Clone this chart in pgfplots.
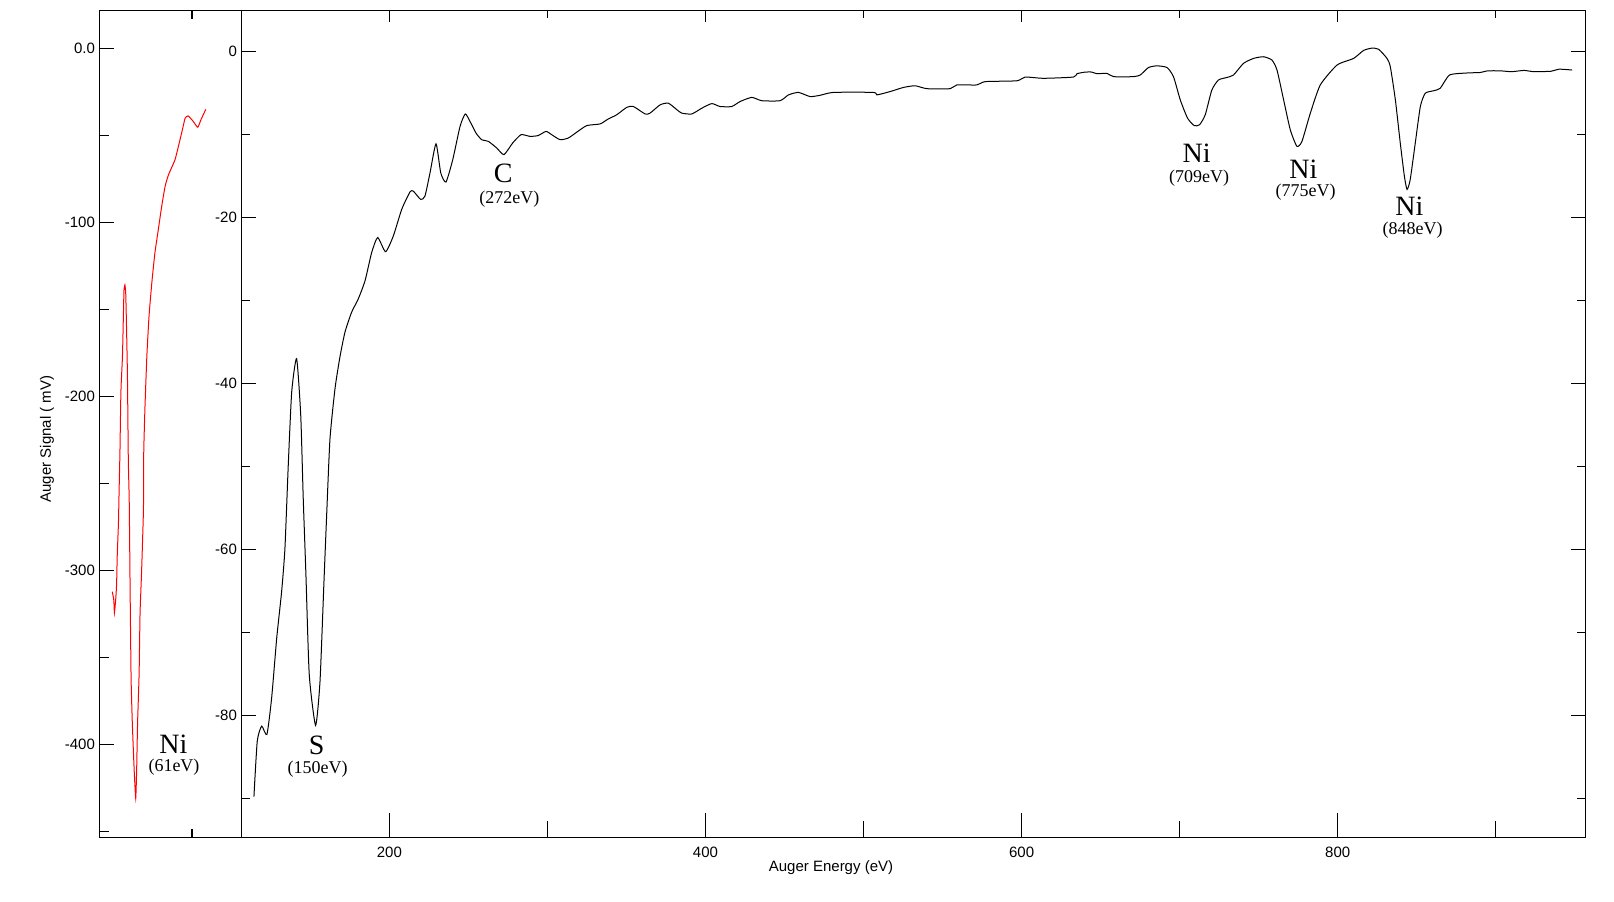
\documentclass[border=0pt]{standalone}
\usepackage{fontspec}
\setmainfont{Liberation Sans}
\newfontfamily\tnr{Liberation Serif}
\usepackage{pgfplots}
\pgfplotsset{compat=1.18}
\begin{document}
\begin{tikzpicture}
\useasboundingbox (0,0) rectangle (807pt,450.5pt);
\pgfplotsset{
  common/.style={scale only axis, anchor=south west,
    axis line style={line width=0.6pt, black},
    every tick/.style={line width=0.6pt, black},
    tick align=inside,
    font=\fontsize{7.5}{9}\selectfont,
    yticklabel style={anchor=east, inner sep=0pt, xshift=-2pt},
    xticklabel style={anchor=north, inner sep=0pt, yshift=-4.7pt},
  },
  leftbox/.style={common, at={(49.65pt,31.85pt)}, width=71pt, height=413.5pt,
    xmin=50, xmax=96, ymin=-453.4, ymax=21.8},
  rightbox/.style={common, at={(120.65pt,31.85pt)}, width=672.25pt, height=413.5pt,
    xmin=106.3, xmax=957, ymin=-94.7, ymax=5.0},
}
% ---- left panel ----
\begin{axis}[leftbox, xtick=\empty,
  ytick={0,-100,-200,-300,-400}, yticklabels={0.0,-100,-200,-300,-400},
  minor ytick={-50,-150,-250,-350,-450}, ytick pos=left,
  major tick length=7.3pt, minor tick length=5pt]
\addplot[red, line width=0.5pt, smooth, tension=0.3] coordinates {
(54.2,-312.3) (54.7,-317.1) (54.9,-324.4) (55.3,-317.1) (55.6,-308.4) (55.8,-292.2)
(56.2,-273.0) (56.4,-255.7) (56.7,-230.9) (57.0,-197.4) (57.5,-177.2) (57.8,-154.2)
(58.0,-138.9) (58.3,-136.0) (58.6,-142.8) (59.1,-185.9) (59.4,-236.6) (59.7,-260.6)
(60.0,-314.2) (60.3,-362.1) (60.7,-387.9) (61.3,-414.8) (61.8,-431.0) (62.1,-414.8)
(62.4,-387.9) (62.9,-359.2) (63.2,-324.7) (63.7,-300.8) (64.3,-265.3) (64.4,-232.0)
(64.8,-206.0) (65.4,-177.2) (66.1,-154.2) (67.0,-135.1) (68.0,-117.8) (69.1,-104.4)
(70.2,-91.0) (71.3,-79.5) (72.4,-72.8) (74.5,-64.2) (75.6,-56.6) (76.9,-47.0)
(77.8,-40.2) (78.8,-38.9) (80.5,-42.2) (81.9,-45.4) (82.9,-41.2) (84.5,-35.1)
};
\end{axis}
\begin{axis}[leftbox, ytick=\empty, xtick={80}, xticklabels={}, xtick pos=both,
  major tick length=4.25pt]
\end{axis}
% ---- right panel ----
\begin{axis}[rightbox, xtick=\empty,
  ytick={0,-20,-40,-60,-80}, yticklabels={0,-20,-40,-60,-80},
  minor ytick={-10,-30,-50,-70,-90}, ytick pos=both, yticklabel pos=left,
  major tick length=7.3pt, minor tick length=4.5pt]
\addplot[black, line width=0.5pt, smooth, tension=0.35] coordinates {
(114.3,-89.8) (116.4,-83.1) (119.2,-81.3) (122.5,-82.3) (125.5,-77.9) (128.7,-70.7)
(131.8,-65.1) (133.9,-59.9) (136.0,-49.9) (138.2,-41.0) (141.3,-37.0) (143.9,-43.8)
(145.5,-53.9) (147.2,-63.1) (149.3,-75.1) (153.3,-81.2) (156.1,-75.9) (158.6,-63.9)
(160.3,-55.9) (162.4,-46.7) (165.6,-40.6) (168.7,-36.8) (171.9,-33.8) (176.1,-31.4)
(180.3,-29.8) (184.6,-27.6) (188.8,-24.2) (192.6,-22.4) (197.6,-24.1) (202.5,-22.2)
(207.8,-19.0) (213.0,-16.9) (215.1,-16.8) (219.8,-17.8) (222.5,-17.4) (225.7,-14.6)
(229.5,-11.1) (232.5,-14.6) (235.8,-15.7) (240.1,-13.0) (244.7,-9.0) (248.0,-7.5)
(251.0,-8.4) (254.8,-9.8) (258.4,-10.6) (262.6,-10.8) (267.9,-11.6) (272.5,-12.4)
(278.0,-11.0) (283.3,-10.0) (289.0,-10.2) (294.2,-10.1) (299.1,-9.6) (302.7,-10.0)
(308.0,-10.6) (313.2,-10.4) (318.5,-9.7) (324.9,-8.9) (333.3,-8.7) (338.5,-8.1)
(343.8,-7.6) (350.2,-6.7) (354.4,-6.6) (361.8,-7.5) (364.9,-7.4) (371.3,-6.4)
(376.5,-6.2) (382.0,-7.0) (385.0,-7.4) (391.3,-7.5) (397.7,-6.8) (404.0,-6.25)
(409.2,-6.6) (416.6,-6.6) (421.9,-6.0) (429.3,-5.5) (435.6,-5.9) (447.2,-5.9)
(452.5,-5.2) (458.8,-4.9) (466.2,-5.4) (472.5,-5.25) (481.0,-4.9) (506.3,-4.9)
(508.4,-5.2) (516.8,-4.8) (525.3,-4.3) (532.7,-4.1) (540.1,-4.45) (554.8,-4.45)
(559.0,-4.0) (571.7,-4.0) (577.0,-3.6) (597.0,-3.5) (602.3,-3.05) (613.9,-3.2)
(632.8,-3.05) (635.0,-2.65) (640.3,-2.45) (644.5,-2.45) (647.7,-2.65) (654.0,-2.6)
(658.2,-3.0) (670.8,-3.0) (675.1,-2.8) (680.3,-1.9) (685.6,-1.7) (692.0,-1.9)
(696.1,-3.0) (700.4,-5.8) (705.0,-8.0) (709.2,-8.9) (712.6,-8.8) (716.2,-7.6)
(720.4,-4.6) (724.6,-3.4) (729.9,-3.1) (734.1,-2.8) (740.4,-1.4) (746.8,-0.8)
(753.1,-0.6) (758.4,-1.0) (761.6,-2.2) (765.8,-5.8) (770.0,-9.4) (774.2,-11.4)
(777.4,-10.8) (782.7,-7.4) (789.0,-4.0) (799.6,-1.6) (810.1,-0.8) (816.4,0.16)
(821.7,0.44) (825.9,0.3) (831.2,-0.8) (833.3,-1.8) (836.5,-5.8) (839.6,-11.0)
(842.2,-15.0) (843.9,-16.6) (845.9,-15.4) (849.1,-11.0) (852.3,-6.6) (855.4,-5.0)
(860.7,-4.7) (864.9,-4.4) (870.8,-2.8) (881.8,-2.56) (890.0,-2.5) (895.0,-2.3)
(902.9,-2.3) (910.0,-2.4) (918.0,-2.25) (924.0,-2.4) (935.0,-2.35) (940.0,-2.1)
(948.3,-2.2)
};
\end{axis}
\begin{axis}[rightbox, ytick=\empty,
  xtick={200,400,600,800}, xticklabels={200,400,600,800},
  minor xtick={300,500,700,900}, xtick pos=left,
  major tick length=12pt, minor tick length=8pt]
\end{axis}
\begin{axis}[rightbox, ytick=\empty,
  xtick={200,400,600,800}, xticklabels={}, 
  minor xtick={300,500,700,900}, xtick pos=right,
  major tick length=6pt, minor tick length=4pt]
\end{axis}
% ---- labels ----
\node[rotate=90, font=\fontsize{7.5}{9}\selectfont] at (23.5pt,231pt) {Auger Signal ( mV)};
\node[font=\fontsize{7.5}{9}\selectfont] at (415.5pt,16.5pt) {Auger Energy (eV)};
\def\big{\tnr\fontsize{14}{16}\selectfont}
\def\sml{\tnr\fontsize{9}{11}\selectfont}
\node[font=\big] at (86.65pt,78.5pt) {Ni};
\node[font=\sml] at (87pt,67.15pt) {(61eV)};
\node[font=\big] at (158.35pt,77.65pt) {S};
\node[font=\sml] at (158.85pt,66pt) {(150eV)};
\node[font=\big] at (251.65pt,363.85pt) {C};
\node[font=\sml] at (254.65pt,351pt) {(272eV)};
\node[font=\big] at (598.35pt,373.85pt) {Ni};
\node[font=\sml] at (599.5pt,361.65pt) {(709eV)};
\node[font=\big] at (651.65pt,366pt) {Ni};
\node[font=\sml] at (652.85pt,354.35pt) {(775eV)};
\node[font=\big] at (704.65pt,347.15pt) {Ni};
\node[font=\sml] at (706.35pt,335.5pt) {(848eV)};
\end{tikzpicture}
\end{document}
